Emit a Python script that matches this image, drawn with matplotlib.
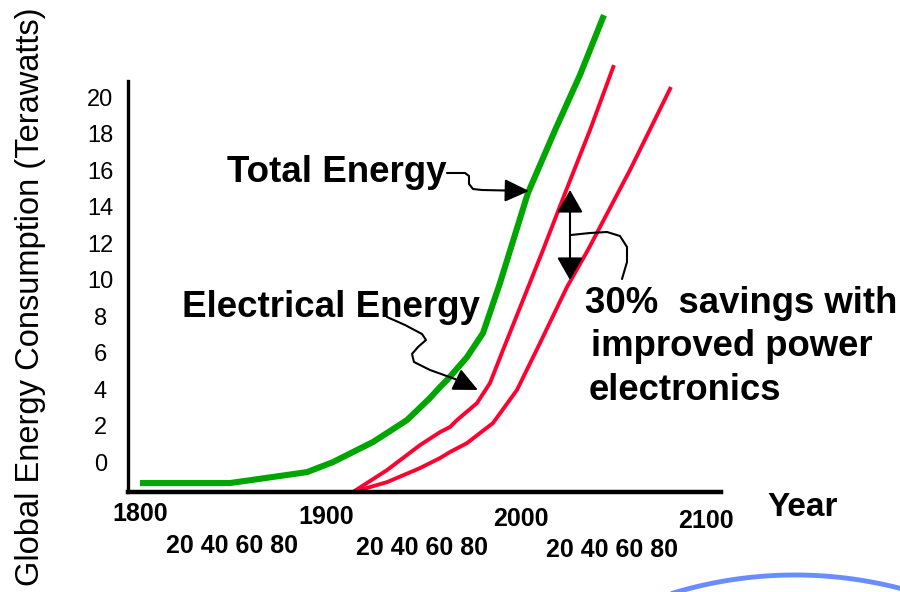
import numpy as np
import matplotlib
matplotlib.use('Agg')
import matplotlib.pyplot as plt
from matplotlib.transforms import Affine2D
from matplotlib.patches import FancyArrowPatch
from matplotlib.path import Path
from matplotlib import font_manager

plt.rcParams['font.family'] = ['Liberation Sans', 'DejaVu Sans']

# total energy consumption (TW) by year
total_years = [1800, 1847.7, 1888.5, 1902.3, 1923.5, 1941.5, 1953.7, 1959.0,
               1962.7, 1973.3, 1981.8, 1990.8, 2005.6, 2020.0, 2033.2, 2045.9]
total_tw = [-1.15, -1.15, -0.55, 0.0, 1.10, 2.30, 3.51, 4.11,
            4.49, 5.75, 7.07, 9.81, 14.74, 18.19, 21.21, 24.49]

# electrical energy, current path
elec_years = [1912.9, 1930.9, 1948.4, 1959.0, 1964.3, 1968.0, 1978.6, 1985.5,
              1992.4, 2003.0, 2013.6, 2025.3, 2038.5, 2051.2]
elec_tw = [-1.64, -0.44, 0.93, 1.64, 1.92, 2.30, 3.23, 4.33,
           6.14, 8.88, 11.62, 14.74, 18.19, 21.75]

# electrical energy with better power electronics
saved_years = [1912.9, 1930.9, 1948.4, 1959.0, 1964.3, 1973.3, 1987.1, 1999.8,
               2012.0, 2026.3, 2037.4, 2059.7, 2081.4]
saved_tw = [-1.64, -1.10, -0.33, 0.22, 0.55, 1.04, 2.14, 3.95,
            6.52, 9.59, 11.62, 16.00, 20.55]

y_ticks = list(range(0, 21, 2))
century_labels = ['1800', '1900', '2000', '2100']
decade_labels = ['20 40 60 80'] * 3

W, H = 900, 592
fig = plt.figure(figsize=(W / 100, H / 100), dpi=100)
# pixel coordinates measured from the top-left corner
px = Affine2D().scale(1, -1).translate(0, H)

ax = fig.add_axes([128 / W, 1 - 492 / H, (721 - 128) / W, (492 - 81) / H])
ax.set_xlim(1793.64, 2107.94)
ax.set_ylim(-1.64, 20.88)
for s in ['top', 'right']:
    ax.spines[s].set_visible(False)
ax.spines['left'].set_linewidth(2.4)
ax.spines['bottom'].set_linewidth(3.2)
ax.spines['left'].set_capstyle('projecting')
ax.spines['bottom'].set_capstyle('projecting')

ax.set_xticks([])
ax.set_yticks(y_ticks)
ax.set_yticklabels([str(v) for v in y_ticks], fontsize=17)
ax.tick_params(axis='y', length=0, pad=19.8)
for lab in ax.get_yticklabels():
    lab.set_horizontalalignment('center')

green = '#00a600'
red = '#ff0030'
ax.plot(total_years, total_tw, color=green, lw=4.4, clip_on=False,
        solid_capstyle='butt', solid_joinstyle='round')
ax.plot(elec_years, elec_tw, color=red, lw=2.8, clip_on=False,
        solid_capstyle='butt', solid_joinstyle='round')
ax.plot(saved_years, saved_tw, color=red, lw=2.8, clip_on=False,
        solid_capstyle='butt', solid_joinstyle='round')

# axis texts
names = {f.name for f in font_manager.fontManager.ttflist}
if 'Liberation Sans Narrow' in names:
    fig.text(31, 297, 'Global Energy Consumption (Terawatts)', transform=px,
             rotation=90, ha='center', va='center', fontsize=26,
             fontweight='bold', family='Liberation Sans Narrow')
else:
    fig.text(31, 297, 'Global Energy Consumption (Terawatts)', transform=px,
             rotation=90, ha='center', va='center', fontsize=23.5)
fig.text(803, 507, 'Year', transform=px, ha='center', va='center',
         fontsize=24, fontweight='bold')
for lab, x, y in zip(century_labels, [140, 326, 521, 706], [514, 517, 519, 521]):
    fig.text(x, y, lab, transform=px, ha='center', va='center',
             fontsize=18, fontweight='bold')
for lab, x, y in zip(decade_labels, [232, 422, 612], [546, 548, 550]):
    fig.text(x, y, lab, transform=px, ha='center', va='center',
             fontsize=18, fontweight='bold')

# annotations
fig.text(227, 182, 'Total Energy', transform=px, ha='left', va='baseline',
         fontsize=26.5, fontweight='bold')
fig.text(182, 317, 'Electrical Energy', transform=px, ha='left', va='baseline',
         fontsize=26.5, fontweight='bold')
for line, x, y in zip(['30%  savings with', 'improved power', 'electronics'],
                      [585, 591, 589], [313, 356, 400]):
    fig.text(x, y, line, transform=px, ha='left', va='baseline',
             fontsize=26.3, fontweight='bold')


def connector(pts, style):
    path = Path(pts)
    arr = FancyArrowPatch(path=path, arrowstyle=style, color='black',
                          lw=1.5, shrinkA=0, shrinkB=0, transform=px,
                          joinstyle='round', capstyle='round')
    fig.add_artist(arr)


head = '-|>,head_length=15,head_width=7'
connector([(447, 173), (465, 173), (469, 176), (469, 184), (473, 189),
           (482, 190), (529, 191)], head)
connector([(387, 317), (405, 325), (422, 334), (426, 340), (418, 347),
           (412, 354), (414, 362), (430, 370), (455, 379), (478, 390)], head)
connector([(570, 190), (570, 280)], '<|-|>,head_length=14,head_width=8')
connector([(571, 235), (590, 233), (607, 232), (620, 236), (627, 247),
           (627, 262), (622, 279)], '-')

# blue arc at the lower right
t = np.linspace(-0.3, 0.3, 100)
R = 420
fig.add_artist(plt.Line2D(795 + R * np.sin(t), 995 - R * np.cos(t),
                          transform=px, color='#6a8cff', lw=3.5))

fig.savefig('out.png', dpi=100)
